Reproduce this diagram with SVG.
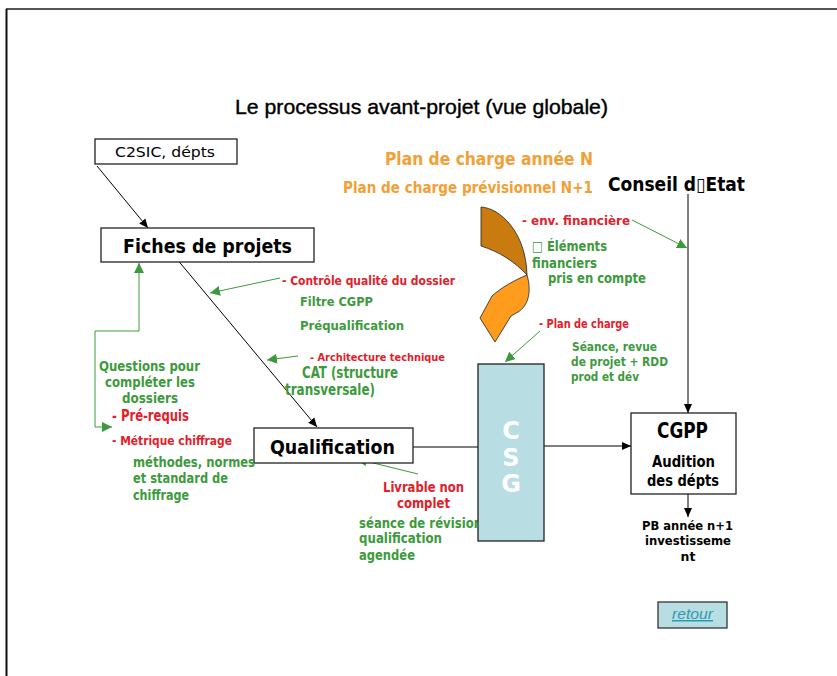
<svg xmlns="http://www.w3.org/2000/svg" width="837" height="676" viewBox="0 0 837 676">
<defs>
<style>
.t{font-family:"DejaVu Sans","Liberation Sans",sans-serif;font-weight:bold}
.r{fill:#e2202a}
.g{fill:#3c9a3c}
.o{fill:#f2a035}
.k{fill:#000}
.box{fill:#fff;stroke:#222;stroke-width:1.3}
.ln{stroke:#000;stroke-width:1;fill:none}
.gl{stroke:#3c9a3c;stroke-width:1;fill:none}
</style>
<marker id="ab" markerUnits="userSpaceOnUse" markerWidth="10" markerHeight="10" refX="9" refY="5" orient="auto">
<path d="M0,1 L9,5 L0,9 z" fill="#000"/>
</marker>
<marker id="ag" markerUnits="userSpaceOnUse" markerWidth="12" markerHeight="12" refX="10" refY="6" orient="auto">
<path d="M0,1 L10,6 L0,11 z" fill="#3c9a3c"/>
</marker>
</defs>
<rect x="0" y="0" width="837" height="676" fill="#fff"/>
<line x1="6" y1="9" x2="837" y2="9" stroke="#555" stroke-width="2"/>
<line x1="6.5" y1="9" x2="6.5" y2="676" stroke="#111" stroke-width="2"/>

<g id="title">
<text x="235" y="114" font-family="Liberation Sans, Arial, sans-serif" font-size="21" stroke="#000" stroke-width="0.4" textLength="373" lengthAdjust="spacingAndGlyphs">Le processus avant-projet (vue globale)</text>
</g>

<g id="connectors">
<line class="ln" x1="97" y1="166" x2="148" y2="228" marker-end="url(#ab)"/>
<line class="ln" x1="176" y1="258" x2="317" y2="427" marker-end="url(#ab)"/>
<line class="ln" x1="413" y1="447" x2="478" y2="447"/>
<line class="ln" x1="544" y1="446" x2="631" y2="446" marker-end="url(#ab)"/>
<line class="ln" x1="688" y1="194" x2="688" y2="413" marker-end="url(#ab)"/>
<line class="ln" x1="688" y1="494" x2="688" y2="517" marker-end="url(#ab)"/>
<polyline class="gl" points="139,331 139,263" marker-end="url(#ag)"/>
<polyline class="gl" points="139,331 95,331 95,427 112,427" marker-end="url(#ag)"/>
<line class="gl" x1="280" y1="278" x2="210" y2="293" marker-end="url(#ag)"/>
<line class="gl" x1="298" y1="356" x2="267" y2="360" marker-end="url(#ag)"/>
<line class="gl" x1="418" y1="474" x2="357" y2="459" marker-end="url(#ag)"/>
<line class="gl" x1="632" y1="220" x2="687" y2="248" marker-end="url(#ag)"/>
<line class="gl" x1="540" y1="331" x2="505" y2="362" marker-end="url(#ag)"/>
</g>

<g id="c2sic">
<rect class="box" x="95" y="139" width="142" height="25"/>
<text x="115" y="157" font-family="DejaVu Sans, sans-serif" font-size="14" textLength="100" lengthAdjust="spacingAndGlyphs">C2SIC, dépts</text>
</g>

<g id="fiches">
<rect class="box" x="101" y="228" width="213" height="34"/>
<text class="t k" x="123" y="253" font-size="20" textLength="169" lengthAdjust="spacingAndGlyphs">Fiches de projets</text>
</g>

<g id="qualification">
<rect class="box" x="254" y="428" width="159" height="35"/>
<text class="t k" x="270" y="454" font-size="20" textLength="125" lengthAdjust="spacingAndGlyphs">Qualification</text>
</g>

<g id="plan-arrow">
<path d="M481,207 C500,208 526,232 527,275 C515,262 500,252 481,246 Z" fill="#c97b10" stroke="#222" stroke-width="0.8"/>
<path d="M527,275 C532,292 528,306 518,312 L511,316 L495,342 L480,318 L492,296 C502,287 515,280 527,275 Z" fill="#ff9c1e" stroke="#222" stroke-width="0.8"/>
</g>

<g id="plan-labels">
<text class="t o" x="385" y="165" font-size="17" textLength="208" lengthAdjust="spacingAndGlyphs">Plan de charge année N</text>
<text class="t o" x="343" y="193" font-size="15" textLength="250" lengthAdjust="spacingAndGlyphs">Plan de charge prévisionnel N+1</text>
</g>

<g id="conseil">
<text class="t k" x="608" y="191" font-size="19" textLength="137" lengthAdjust="spacingAndGlyphs">Conseil d▯Etat</text>
</g>

<g id="labels-env">
<text class="t r" x="522" y="225" font-size="13" textLength="108" lengthAdjust="spacingAndGlyphs">- env. financière</text>
<text class="t g" x="532" y="251" font-size="14" textLength="75" lengthAdjust="spacingAndGlyphs">□ Éléments</text>
<text class="t g" x="532" y="268" font-size="14" textLength="65" lengthAdjust="spacingAndGlyphs">financiers</text>
<text class="t g" x="548" y="283" font-size="14" textLength="98" lengthAdjust="spacingAndGlyphs">pris en compte</text>
</g>

<g id="labels-controle">
<text class="t r" x="282" y="285" font-size="12" textLength="173" lengthAdjust="spacingAndGlyphs">- Contrôle qualité du dossier</text>
<text class="t g" x="300" y="306" font-size="13" textLength="73" lengthAdjust="spacingAndGlyphs">Filtre CGPP</text>
<text class="t g" x="300" y="330" font-size="13" textLength="104" lengthAdjust="spacingAndGlyphs">Préqualification</text>
<text class="t r" x="310" y="361" font-size="11" textLength="135" lengthAdjust="spacingAndGlyphs">- Architecture technique</text>
<text class="t g" x="302" y="378" font-size="15" textLength="96" lengthAdjust="spacingAndGlyphs">CAT (structure</text>
<text class="t g" x="285" y="395" font-size="15" textLength="90" lengthAdjust="spacingAndGlyphs">transversale)</text>
</g>

<g id="labels-left">
<text class="t g" x="99" y="371" font-size="14" textLength="101" lengthAdjust="spacingAndGlyphs">Questions pour</text>
<text class="t g" x="105" y="387" font-size="14" textLength="90" lengthAdjust="spacingAndGlyphs">compléter les</text>
<text class="t g" x="122" y="403" font-size="14" textLength="56" lengthAdjust="spacingAndGlyphs">dossiers</text>
<text class="t r" x="112" y="421" font-size="15" textLength="77" lengthAdjust="spacingAndGlyphs">- Pré-requis</text>
<text class="t r" x="112" y="445" font-size="12.5" textLength="120" lengthAdjust="spacingAndGlyphs">- Métrique chiffrage</text>
<text class="t g" x="133" y="467" font-size="14" textLength="122" lengthAdjust="spacingAndGlyphs">méthodes, normes</text>
<text class="t g" x="133" y="483" font-size="14" textLength="95" lengthAdjust="spacingAndGlyphs">et standard de</text>
<text class="t g" x="133" y="500" font-size="14" textLength="56" lengthAdjust="spacingAndGlyphs">chiffrage</text>
</g>

<g id="labels-livrable">
<text class="t r" x="383" y="492" font-size="14" textLength="81" lengthAdjust="spacingAndGlyphs">Livrable non</text>
<text class="t r" x="397" y="508" font-size="14" textLength="53" lengthAdjust="spacingAndGlyphs">complet</text>
<text class="t g" x="359" y="528" font-size="13.5" textLength="123" lengthAdjust="spacingAndGlyphs">séance de révision</text>
<text class="t g" x="359" y="543" font-size="13.5" textLength="83" lengthAdjust="spacingAndGlyphs">qualification</text>
<text class="t g" x="359" y="560" font-size="13.5" textLength="56" lengthAdjust="spacingAndGlyphs">agendée</text>
</g>

<g id="labels-plan">
<text class="t r" x="539" y="328" font-size="11.5" textLength="90" lengthAdjust="spacingAndGlyphs">- Plan de charge</text>
<text class="t g" x="572" y="351" font-size="12.5" textLength="85" lengthAdjust="spacingAndGlyphs">Séance, revue</text>
<text class="t g" x="571" y="366" font-size="12.5" textLength="97" lengthAdjust="spacingAndGlyphs">de projet + RDD</text>
<text class="t g" x="571" y="381" font-size="12.5" textLength="68" lengthAdjust="spacingAndGlyphs">prod et dév</text>
</g>

<g id="csg">
<rect x="478" y="364" width="66" height="177" fill="#b8dde3" stroke="#222" stroke-width="1.3"/>
<text class="t" x="511" y="439" font-size="24" fill="#fff" text-anchor="middle">C</text>
<text class="t" x="511" y="466" font-size="24" fill="#fff" text-anchor="middle">S</text>
<text class="t" x="511" y="492" font-size="24" fill="#fff" text-anchor="middle">G</text>
</g>

<g id="cgpp">
<rect class="box" x="631" y="413" width="105" height="81"/>
<text class="t k" x="657" y="438" font-size="21" textLength="51" lengthAdjust="spacingAndGlyphs">CGPP</text>
<text class="t k" x="652" y="467" font-size="15" textLength="63" lengthAdjust="spacingAndGlyphs">Audition</text>
<text class="t k" x="647" y="486" font-size="15" textLength="72" lengthAdjust="spacingAndGlyphs">des dépts</text>
</g>

<g id="pb">
<text class="t k" x="642" y="530" font-size="12.5" textLength="91" lengthAdjust="spacingAndGlyphs">PB année n+1</text>
<text class="t k" x="645" y="545" font-size="12.5" textLength="86" lengthAdjust="spacingAndGlyphs">investisseme</text>
<text class="t k" x="688" y="561" font-size="12.5" text-anchor="middle">nt</text>
</g>

<g id="retour">
<rect x="658" y="602" width="69" height="26" fill="#b8dde3" stroke="#333" stroke-width="1.3"/>
<text x="672" y="619" font-family="Liberation Sans, Arial, sans-serif" font-size="15" font-style="italic" fill="#2f9aae" text-decoration="underline" textLength="41" lengthAdjust="spacingAndGlyphs">retour</text>
</g>
</svg>
